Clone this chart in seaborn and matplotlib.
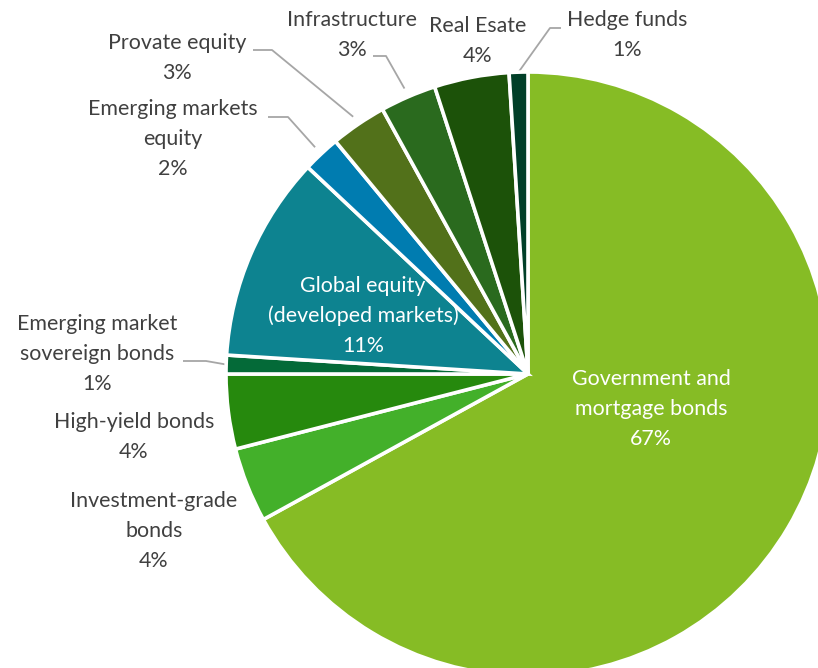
import numpy as np
import matplotlib
matplotlib.use("Agg")
import matplotlib.pyplot as plt
import seaborn as sns

# Portfolio allocation (%), clockwise from 12 o'clock
categories = [
    "Government and\nmortgage bonds",
    "Investment-grade\nbonds",
    "High-yield bonds",
    "Emerging market\nsovereign bonds",
    "Global equity\n(developed markets)",
    "Emerging markets\nequity",
    "Provate equity",
    "Infrastructure",
    "Real Esate",
    "Hedge funds",
]
shares = [67, 4, 4, 1, 11, 2, 3, 3, 4, 1]
colors = ["#86BC25", "#43B02A", "#26890D", "#046A38", "#0D8390",
          "#007CB0", "#52711A", "#2A6A1E", "#1C5209", "#013F28"]

sns.set_theme(style="white")
plt.rcParams["font.family"] = ["Lato", "DejaVu Sans"]

W, H, DPI = 818, 668, 100
fig = plt.figure(figsize=(W / DPI, H / DPI), dpi=DPI)
ax = fig.add_axes([0, 0, 1, 1])

# Pie centre and radius in pixel space
CX, CY, R = 528, 374, 302


def px(x, y):
    return (x - CX) / R, (CY - y) / R


wedges, _ = ax.pie(
    shares, colors=sns.color_palette(colors), startangle=90, counterclock=False,
    radius=1, center=(0, 0), frame=True,
    wedgeprops=dict(edgecolor="white", linewidth=2.6),
)
ax.set_xlim(px(0, 0)[0], px(W, 0)[0])
ax.set_ylim(px(0, H)[1], px(0, 0)[1])
ax.set_aspect("equal")
ax.axis("off")

FS = 15.4
LS = 1.62
TXT = "#404040"
LINE = "#A6A6A6"

# text centre (px); optional leader: elbow and tail points (px)
layout = {
    0: dict(pos=(651, 409), inside=True),
    1: dict(pos=(154, 531)),
    2: dict(pos=(134, 437)),
    3: dict(pos=(97, 354), elbow=(206, 361), tail=(183, 361), r=1.0),
    4: dict(pos=(363, 316), inside=True),
    5: dict(pos=(173, 139), elbow=(288, 117), tail=(268, 117), r=1.03),
    6: dict(pos=(177, 58), elbow=(272, 50), tail=(253, 50), r=1.03),
    7: dict(pos=(352, 35), elbow=(386, 56), tail=(373, 56), r=1.03),
    8: dict(pos=(478, 41)),
    9: dict(pos=(627, 35), elbow=(550, 28), tail=(561, 28), r=1.0),
}

for i, (w, name, val) in enumerate(zip(wedges, categories, shares)):
    spec = layout[i]
    label = f"{name}\n{val}%"
    x, y = px(*spec["pos"])
    inside = spec.get("inside", False)
    ax.text(x, y, label, ha="center", va="center",
            color="white" if inside else TXT, fontsize=FS, linespacing=LS)
    if "elbow" in spec:
        mid = np.deg2rad((w.theta1 + w.theta2) / 2)
        r = spec["r"]
        ex, ey = px(*spec["elbow"])
        tx, ty = px(*spec["tail"])
        ax.plot([r * np.cos(mid), ex, tx], [r * np.sin(mid), ey, ty],
                color=LINE, lw=1.3, solid_capstyle="butt", zorder=0)

fig.savefig("out.png", dpi=DPI, facecolor="white")
